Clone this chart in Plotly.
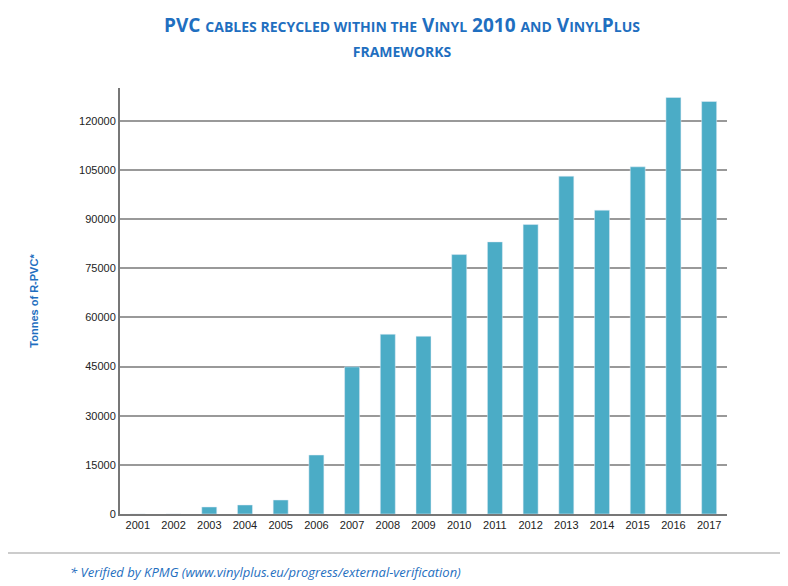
import plotly.graph_objects as go

years = [str(y) for y in range(2001, 2018)]
tonnes = [0, 0, 2140, 2750, 4270, 18000, 44900, 54850, 54240, 79170, 83040, 88330,
          103090, 92710, 105940, 127100, 125880]
yticks = [0, 15000, 30000, 45000, 60000, 75000, 90000, 105000, 120000]

blue = "#1f6fc0"
fig = go.Figure(go.Bar(x=years, y=tonnes, marker_color="#4bacc6", width=0.42))

O = 8  # page offset
L, R, T, B = 120 - O, 61 + O, 88 - O, 72 + O
W, H = 788, 586
pw, ph = W - L - R, H - T - B
def px(x): return (x - O - L) / pw
def py(y): return (H - B - (y - O)) / ph

s = "<span style='font-size:14px'>"
title = ("<b>PVC " + s + "CABLES RECYCLED WITHIN THE</span> V" + s + "INYL</span> 2010 " + s +
         "AND</span> V" + s + "INYL</span>P" + s + "LUS</span><br>" + s + "FRAMEWORKS</span></b>")

fig.update_layout(
    width=W, height=H, margin=dict(l=L, r=R, t=T, b=B),
    paper_bgcolor="white", plot_bgcolor="white",
    font=dict(family="Liberation Sans, Arial", size=11, color="#222"),
    showlegend=False,
    title=dict(text=title, x=0.5, xanchor="center", y=1 - 24/H, yanchor="top",
               font=dict(size=19, color=blue, family="Open Sans")),
    xaxis=dict(showline=True, linecolor="#777", linewidth=2, ticks="", tickfont=dict(size=11)),
    yaxis=dict(range=[0, 130000], tickvals=yticks, ticktext=[str(v) for v in yticks],
               showgrid=True, gridcolor="#999", gridwidth=1.5, showline=True, linecolor="#777",
               linewidth=2, ticks="", zeroline=False,
               title=dict(text="<b>Tonnes of R-PVC*</b>", font=dict(size=11, color=blue), standoff=38)),
    shapes=[dict(type="rect", xref="paper", yref="paper", x0=px(5), x1=px(781), y0=py(553), y1=py(6),
                 line=dict(color="#999", width=1))],
    annotations=[dict(text="<i>* Verified by KPMG (www.vinylplus.eu/progress/external-verification)</i>",
                      xref="paper", yref="paper", x=px(68), y=py(572), xanchor="left", yanchor="middle",
                      showarrow=False, font=dict(size=13, color=blue, family="Open Sans"))],
)
fig.write_html("out.html")
